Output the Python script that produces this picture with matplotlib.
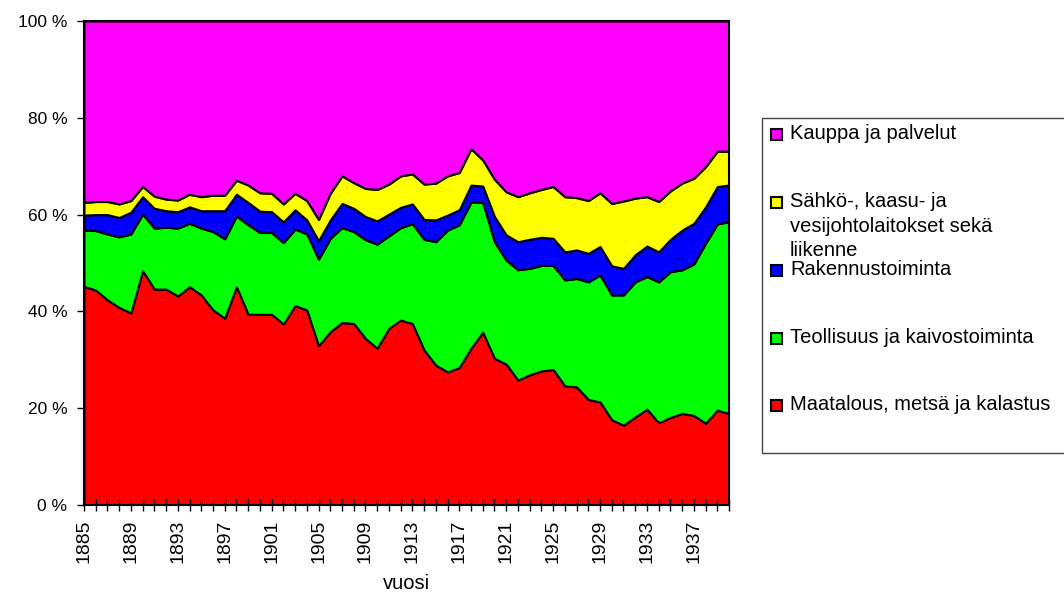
import matplotlib
matplotlib.use("Agg")
import matplotlib.pyplot as plt
from matplotlib.patches import Rectangle
import numpy as np

plt.rcParams['font.family'] = ['Liberation Sans', 'DejaVu Sans']

years = list(range(1885, 1941))

# shares of employment by sector, %
maatalous = [45.2, 44.4, 42.4, 40.8, 39.7, 48.4, 44.6, 44.6, 43.2, 45.1,
             43.4, 40.3, 38.6, 45.1, 39.4, 39.4, 39.4, 37.4, 41.2, 40.3,
             32.9, 35.8, 37.7, 37.5, 34.4, 32.4, 36.5, 38.2, 37.5, 32.0,
             28.9, 27.5, 28.4, 32.4, 35.7, 30.3, 29.1, 25.8, 26.9, 27.7,
             28.0, 24.6, 24.4, 21.8, 21.3, 17.6, 16.5, 18.2, 19.8, 17.0,
             18.1, 18.9, 18.5, 16.9, 19.6, 18.9]
teollisuus = [11.6, 12.3, 13.6, 14.6, 16.3, 11.7, 12.6, 12.8, 14.0, 13.1,
              13.8, 16.2, 16.4, 14.6, 18.5, 16.9, 16.9, 16.8, 15.8, 15.7,
              17.9, 19.3, 19.6, 19.0, 20.4, 21.5, 19.1, 19.1, 20.6, 22.9,
              25.5, 29.3, 29.5, 30.2, 26.8, 24.1, 21.5, 22.8, 22.0, 21.8,
              21.5, 21.9, 22.4, 24.3, 26.2, 25.8, 26.9, 27.9, 27.4, 29.1,
              30.1, 29.7, 31.3, 37.2, 38.5, 39.6]
rakennus = [3.1, 3.3, 4.0, 4.0, 4.5, 3.6, 4.1, 3.4, 3.4, 3.4,
            3.6, 4.3, 5.8, 4.5, 4.6, 4.4, 4.3, 4.3, 4.0, 2.9,
            3.8, 3.8, 5.0, 4.8, 4.8, 4.8, 4.5, 4.2, 4.1, 4.1,
            4.5, 3.1, 3.1, 3.5, 3.4, 5.2, 5.2, 5.8, 6.0, 5.8,
            5.6, 5.8, 5.9, 5.9, 5.9, 6.0, 5.5, 5.6, 6.3, 6.2,
            6.7, 8.2, 8.4, 7.5, 7.7, 7.6]
sahko = [2.6, 2.7, 2.7, 2.8, 2.4, 2.1, 2.5, 2.4, 2.4, 2.6,
         2.9, 3.2, 3.2, 2.9, 3.6, 3.8, 3.8, 3.7, 3.4, 4.0,
         4.4, 5.5, 5.7, 5.3, 5.8, 6.5, 6.2, 6.5, 6.2, 7.3,
         7.6, 8.1, 7.7, 7.5, 5.4, 7.7, 8.9, 9.3, 9.6, 9.9,
         10.7, 11.4, 10.8, 10.9, 11.1, 12.9, 13.9, 11.7, 10.2, 10.4,
         10.0, 9.7, 9.3, 8.3, 7.3, 7.0]
kauppa = [37.5, 37.3, 37.3, 37.8, 37.1, 34.2, 36.2, 36.8, 37.0, 35.8,
          36.3, 36.0, 36.0, 32.9, 33.9, 35.5, 35.6, 37.8, 35.6, 37.1,
          41.0, 35.6, 32.0, 33.4, 34.6, 34.8, 33.7, 32.0, 31.6, 33.7,
          33.5, 32.0, 31.3, 26.4, 28.7, 32.7, 35.3, 36.3, 35.5, 34.8,
          34.2, 36.3, 36.5, 37.1, 35.5, 37.7, 37.2, 36.6, 36.3, 37.3,
          35.1, 33.5, 32.5, 30.1, 26.9, 26.9]

labels = ['Maatalous, metsä ja kalastus',
          'Teollisuus ja kaivostoiminta',
          'Rakennustoiminta',
          'Sähkö-, kaasu- ja\nvesijohtolaitokset sekä\nliikenne',
          'Kauppa ja palvelut']
colors = ['#FF0000', '#00FF00', '#0000FF', '#FFFF00', '#FF00FF']

fig = plt.figure(figsize=(10.64, 5.96), dpi=100)
ax = fig.add_axes([0.0789, 0.1527, 0.6063, 0.8121])

x = np.array(years)
data = np.array([maatalous, teollisuus, rakennus, sahko, kauppa])
data = data / data.sum(axis=0) * 100  # 100 % stacked

ax.stackplot(x, data, colors=colors, edgecolor='black', linewidth=1.5)

ax.set_xlim(years[0], years[-1])
ax.set_ylim(0, 100)
ax.set_yticks(range(0, 101, 20))
ax.set_yticklabels([f'{v} %' for v in range(0, 101, 20)], fontsize=12.5)
ax.set_xticks(years)
ax.set_xticklabels([str(y) if (y - 1885) % 4 == 0 else '' for y in years],
                   rotation=90, fontsize=14)
ax.tick_params(axis='y', length=5, width=1, pad=7)
ax.tick_params(axis='x', direction='inout', length=9, width=1, pad=6)
for s in ax.spines.values():
    s.set_linewidth(1.5)
ax.set_xlabel('vuosi', fontsize=14.5, labelpad=8)

# legend drawn by hand like the Excel box (runs off the right edge)
W, H = 1064, 596
fig.patches.append(Rectangle((762 / W, 1 - 453 / H), 320 / W, (453 - 118) / H,
                             transform=fig.transFigure, facecolor='white',
                             edgecolor='#444444', linewidth=1, clip_on=False))
rows = [134, 202, 270, 338, 405]
for row, lab, col in zip(rows, labels[::-1], colors[::-1]):
    fig.patches.append(Rectangle((771 / W, 1 - (row + 6) / H), 11 / W, 11 / H,
                                 transform=fig.transFigure, facecolor=col,
                                 edgecolor='black', linewidth=1.5))
    fig.text(790 / W, 1 - (row - 10) / H, lab, fontsize=14.5, va='top',
             ha='left', linespacing=1.38)

fig.savefig('out.png', dpi=100)
